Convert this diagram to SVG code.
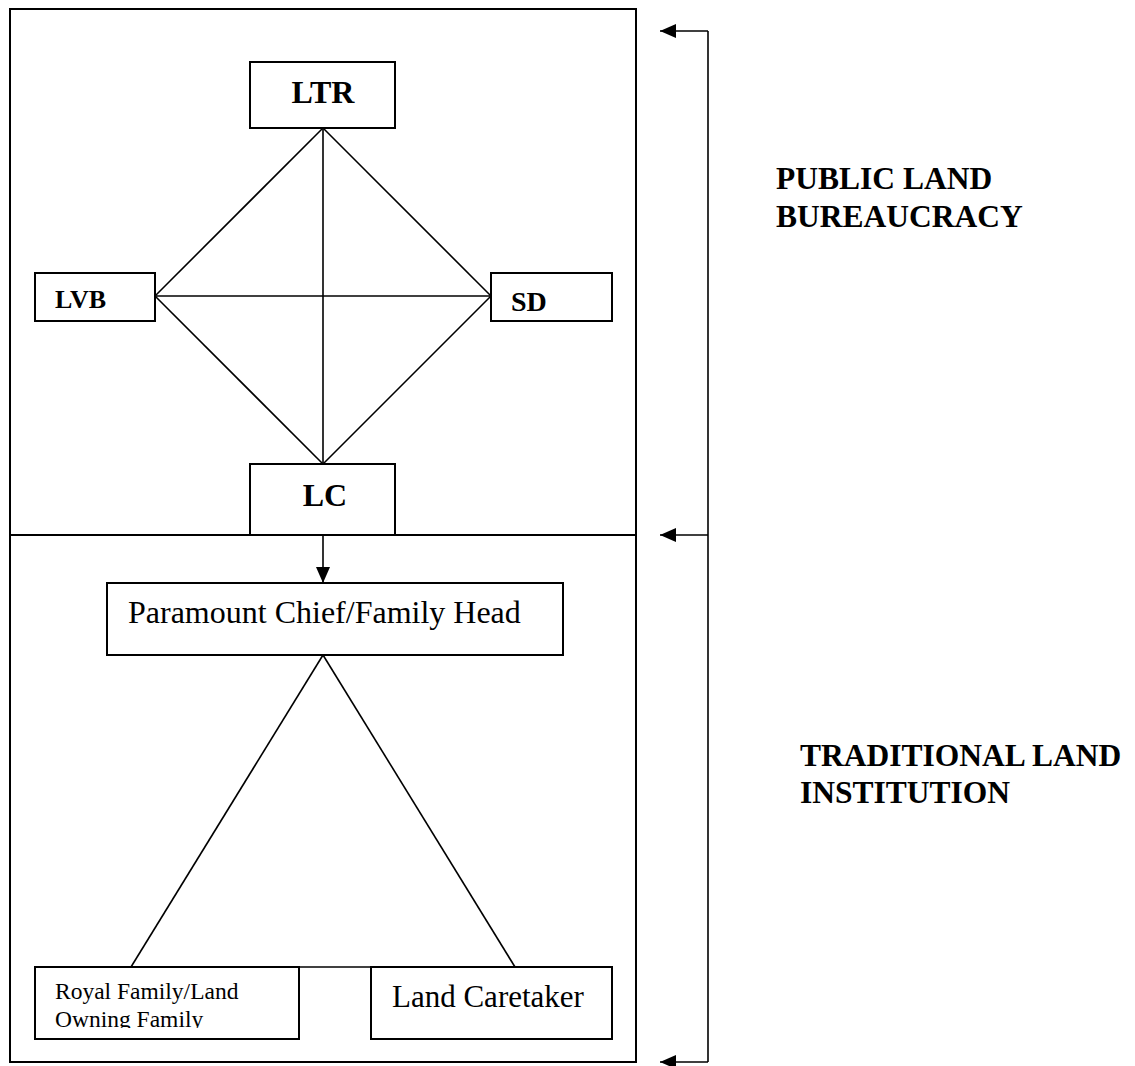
<svg xmlns="http://www.w3.org/2000/svg" width="1135" height="1066" viewBox="0 0 1135 1066">
<style>
.box{fill:#fff;stroke:#000;stroke-width:2}
.ln{stroke:#000;stroke-width:1.6;fill:none}
.t{font-family:"Liberation Serif","Times New Roman",serif;fill:#000}
.b{font-weight:bold}
</style>
<defs>
<marker id="ahs" viewBox="0 0 16 14" refX="16" refY="7" markerWidth="16" markerHeight="14" markerUnits="userSpaceOnUse" orient="auto">
<path d="M0,0 L16,7 L0,14 z" fill="#000"/>
</marker>
<clipPath id="cRoyal"><rect x="34" y="967" width="266" height="61"/></clipPath>
<clipPath id="cSD"><rect x="491" y="273" width="121" height="38"/></clipPath>
</defs>
<rect width="1135" height="1066" fill="#fff"/>

<g id="frame">
<rect x="10" y="9" width="626" height="1053" fill="none" stroke="#000" stroke-width="2"/>
<line x1="10" y1="535" x2="636" y2="535" stroke="#000" stroke-width="2"/>
</g>

<g id="connectors">
<line class="ln" x1="323" y1="128" x2="155" y2="296"/>
<line class="ln" x1="323" y1="128" x2="491" y2="296"/>
<line class="ln" x1="323" y1="128" x2="323" y2="464"/>
<line class="ln" x1="155" y1="296" x2="491" y2="296"/>
<line class="ln" x1="155" y1="296" x2="323" y2="464"/>
<line class="ln" x1="491" y1="296" x2="323" y2="464"/>
<line class="ln" x1="323" y1="535" x2="323" y2="583" marker-end="url(#ahs)"/>
<line class="ln" x1="323" y1="655" x2="131" y2="967"/>
<line class="ln" x1="323" y1="655" x2="515" y2="967"/>
<line class="ln" x1="299" y1="967" x2="371" y2="967"/>
<polyline class="ln" points="708,31 708,1062"/>
<line class="ln" x1="708" y1="31" x2="660" y2="31" marker-end="url(#ahs)"/>
<line class="ln" x1="708" y1="535" x2="660" y2="535" marker-end="url(#ahs)"/>
<line class="ln" x1="708" y1="1062" x2="660" y2="1062" marker-end="url(#ahs)"/>
</g>

<g id="LTR">
<rect class="box" x="250" y="62" width="145" height="66"/>
<text class="t b" x="323" y="103" font-size="32" text-anchor="middle">LTR</text>
</g>
<g id="LVB">
<rect class="box" x="35" y="273" width="120" height="48"/>
<text class="t b" x="55" y="308" font-size="26">LVB</text>
</g>
<g id="SD">
<rect class="box" x="491" y="273" width="121" height="48"/>
<text class="t b" x="511" y="311" font-size="28" clip-path="url(#cSD)">SD</text>
</g>
<g id="LC">
<rect class="box" x="250" y="464" width="145" height="71"/>
<line x1="10" y1="535" x2="636" y2="535" stroke="#000" stroke-width="2"/>
<text class="t b" x="325" y="506" font-size="32" text-anchor="middle">LC</text>
</g>
<g id="paramount">
<rect class="box" x="107" y="583" width="456" height="72"/>
<text class="t" x="128" y="623" font-size="32">Paramount Chief/Family Head</text>
</g>
<g id="royal">
<rect class="box" x="35" y="967" width="264" height="72"/>
<g clip-path="url(#cRoyal)">
<text class="t" x="55" y="999" font-size="23.5">Royal Family/Land</text>
<text class="t" x="55" y="1027" font-size="23.5">Owning Family</text>
</g>
</g>
<g id="caretaker">
<rect class="box" x="371" y="967" width="241" height="72"/>
<text class="t" x="392" y="1007" font-size="31">Land Caretaker</text>
</g>

<g id="labels">
<text class="t b" x="776" y="189" font-size="31.5">PUBLIC LAND</text>
<text class="t b" x="776" y="227" font-size="31.5">BUREAUCRACY</text>
<text class="t b" x="800" y="766" font-size="31.5">TRADITIONAL LAND</text>
<text class="t b" x="800" y="803" font-size="31.5">INSTITUTION</text>
</g>
</svg>
